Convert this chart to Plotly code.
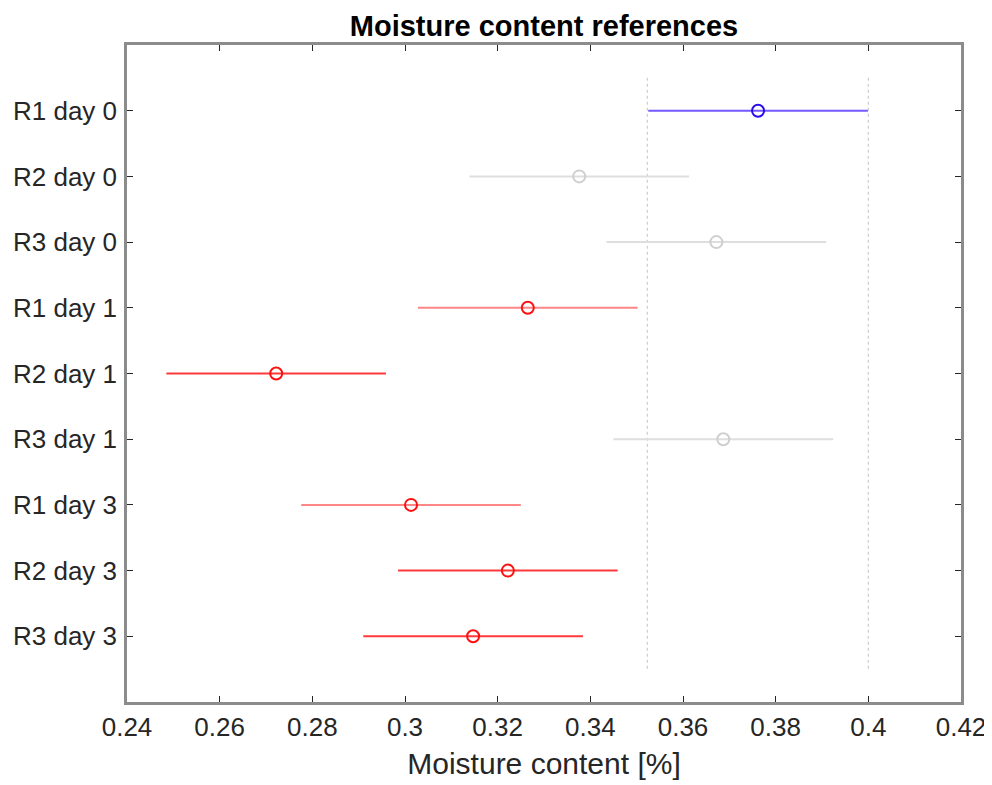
import plotly.graph_objects as go

labels = ["R1 day 0", "R2 day 0", "R3 day 0", "R1 day 1", "R2 day 1",
          "R3 day 1", "R1 day 3", "R2 day 3", "R3 day 3"]
means = [0.3762, 0.3376, 0.3672, 0.3265, 0.2722, 0.3687, 0.3013, 0.3222, 0.3147]
errors = [0.0237, 0.0237, 0.0237, 0.0237, 0.0237, 0.0237, 0.0237, 0.0237, 0.0237]
groups = ["ref", "ns", "ns", "lo", "lo", "ns", "lo", "lo", "lo"]
ref_bounds = [0.3523, 0.4000]
x_ticks = [0.24, 0.26, 0.28, 0.30, 0.32, 0.34, 0.36, 0.38, 0.40, 0.42]
x_tick_text = ["0.24", "0.26", "0.28", "0.3", "0.32", "0.34", "0.36", "0.38", "0.4", "0.42"]

styles = {
    "ref": dict(line="rgba(90,60,255,0.85)", marker="#2a0cf0"),
    "ns": dict(line="rgba(222,222,222,1)", marker="#cfcfcf"),
    "lo": dict(line="rgba(255,30,30,0.88)", marker="#ff1010"),
}
light_rows = {"R1 day 1", "R1 day 3"}

positions = list(range(1, len(labels) + 1))
fig = go.Figure()

# reference band dotted lines
for b in ref_bounds:
    fig.add_trace(go.Scatter(
        x=[b, b], y=[0.5, len(labels) + 0.5], mode="lines",
        line=dict(color="#cccccc", width=1.2, dash="dot"),
        hoverinfo="skip", showlegend=False))

for lab, pos, m, e, g in zip(labels, positions, means, errors, groups):
    st = styles[g]
    lc = st["line"]
    if g == "lo" and lab in light_rows:
        lc = "rgba(255,60,60,0.62)"
    fig.add_trace(go.Scatter(
        x=[m], y=[pos], mode="markers",
        error_x=dict(type="data", array=[e], symmetric=True, color=lc,
                     thickness=2, width=0),
        marker=dict(symbol="circle-open", size=12, color=st["marker"],
                    line=dict(width=2, color=st["marker"])),
        name=lab, showlegend=False))

font_family = "Liberation Sans, Arial, Helvetica, sans-serif"
fig.update_layout(
    width=984, height=777,
    margin=dict(l=119, r=31, t=37, b=83, autoexpand=False),
    paper_bgcolor="white", plot_bgcolor="white",
    font=dict(family=font_family, size=26, color="#262626"),
    title=dict(text="<b>Moisture content references</b>", x=0.5,
               xref="paper", y=0.9775, yanchor="middle",
               font=dict(size=29, color="black", family=font_family)),
)
fig.update_xaxes(
    range=[0.24, 0.42], tickvals=x_ticks, ticktext=x_tick_text,
    showgrid=False, zeroline=False,
    showline=True, linecolor="#8c8c8c", linewidth=2.5, mirror="ticks",
    ticks="inside", ticklen=6, tickwidth=1.2, tickcolor="#262626",
    tickfont=dict(size=26, color="#262626"),
    title=dict(text="Moisture content [%]", standoff=13,
               font=dict(size=30, color="#262626")),
)
fig.update_yaxes(
    range=[len(labels) + 1, 0], tickvals=positions, ticktext=labels,
    showgrid=False, zeroline=False,
    showline=True, linecolor="#8c8c8c", linewidth=2.5, mirror="ticks",
    ticks="inside", ticklen=6, tickwidth=1.2, tickcolor="#262626",
    tickfont=dict(size=26, color="#262626"), ticklabelstandoff=2,
)

fig.write_html("out.html")
